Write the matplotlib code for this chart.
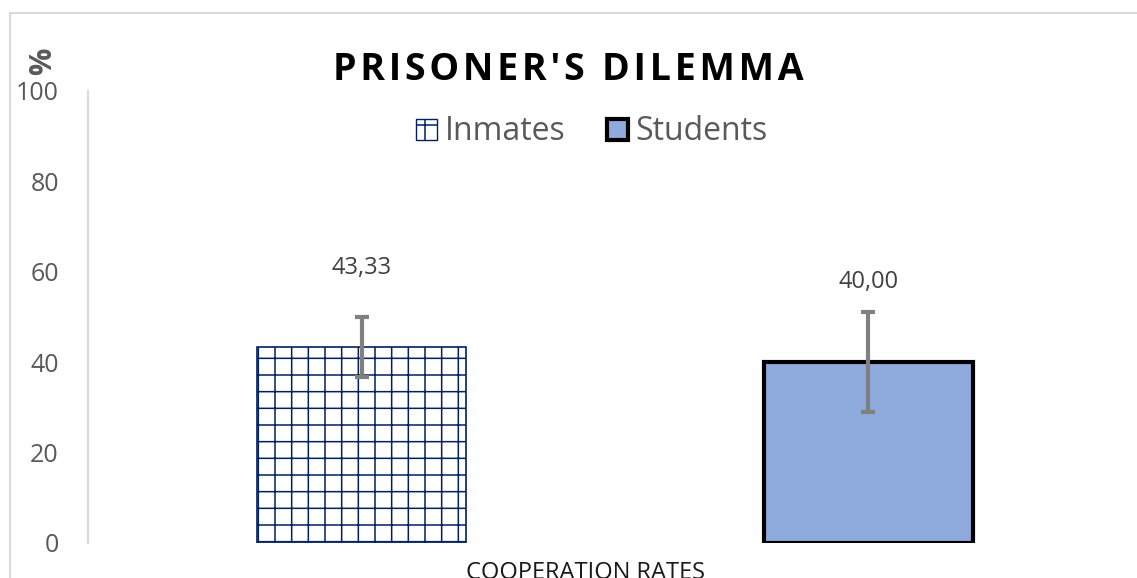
import matplotlib.pyplot as plt
from matplotlib.patches import Rectangle, Patch
from matplotlib.transforms import ScaledTranslation

plt.rcParams['font.family'] = ['Open Sans', 'DejaVu Sans']
plt.rcParams['hatch.color'] = '#002060'
plt.rcParams['hatch.linewidth'] = 1.1

# data
groups = ["Inmates", "Students"]
values = [43.33, 40.00]
errors = [6.7, 11.0]
value_labels = ["43,33", "40,00"]
category = "COOPERATION RATES"
title = "PRISONER'S DILEMMA"
yticks = [0, 20, 40, 60, 80, 100]

GRAY = '#595959'

fig = plt.figure(figsize=(11.37, 5.78), dpi=100)
ax = fig.add_axes([88/1137, 35/578, 1054/1137, 452/578])

# outer chart border
fig.patches.append(Rectangle((10/1137, -0.1), 1.2, 1.1 - 13/578,
                             transform=fig.transFigure, fill=False,
                             edgecolor='#D9D9D9', linewidth=1.5))

offsets = [-0.2405, 0.2405]
width = 0.198

ax.bar(offsets[0], values[0], width, color='white', edgecolor='#002060',
       linewidth=1.2, hatch='+', label=groups[0], zorder=2)
ax.bar(offsets[1], values[1], width, color='#8FAADC', edgecolor='black',
       linewidth=3.0, label=groups[1], zorder=2)
ax.errorbar(offsets, values, yerr=errors, fmt='none', ecolor='#808080',
            elinewidth=3, capsize=5, capthick=3, zorder=3)

for x, v, e, lab in zip(offsets, values, [17.5, 17.7], value_labels):
    ax.text(x, v + e, lab, ha='center', va='center', fontsize=17, color='#404040')

ax.set_xlim(-0.5, 0.5)
ax.set_ylim(0, 100)
ax.set_yticks(yticks)
ax.set_yticklabels([str(t) for t in yticks], fontsize=18, color=GRAY)
ax.tick_params(axis='y', length=0, pad=21)
ax.set_xticks([0])
ax.set_xticklabels([category], fontsize=17, color='#1A1A1A')
ax.tick_params(axis='x', length=0, pad=13)
for lab in ax.get_xticklabels():
    lab.set_transform(lab.get_transform() + ScaledTranslation(-0.30, 0, fig.dpi_scale_trans))

for s in ['top', 'right', 'bottom']:
    ax.spines[s].set_visible(False)
ax.spines['left'].set_color('#D9D9D9')
ax.spines['left'].set_linewidth(1.5)

# letter-spaced title (hair spaces between letters)
spaced = "\u200a".join(title)
fig.text(568/1137, 1 - 70/578, spaced, ha='center', va='center',
         fontsize=27, fontweight='bold', color='black')
fig.text(43/1137, 1 - 61/578, "%", rotation=90, ha='center', va='center',
         fontsize=22, fontweight='bold', color=GRAY)

handles = [Patch(facecolor='white', edgecolor='#002060', hatch='+', linewidth=1.0),
           Patch(facecolor='#8FAADC', edgecolor='black', linewidth=3.0)]
leg = fig.legend(handles, groups, loc='center', bbox_to_anchor=(592/1137, 1 - 132/578),
                 ncol=2, frameon=False, fontsize=23, handlelength=0.65, handleheight=0.65,
                 handletextpad=0.25, columnspacing=1.3)
for t in leg.get_texts():
    t.set_color(GRAY)

fig.savefig('out.png', dpi=100)
